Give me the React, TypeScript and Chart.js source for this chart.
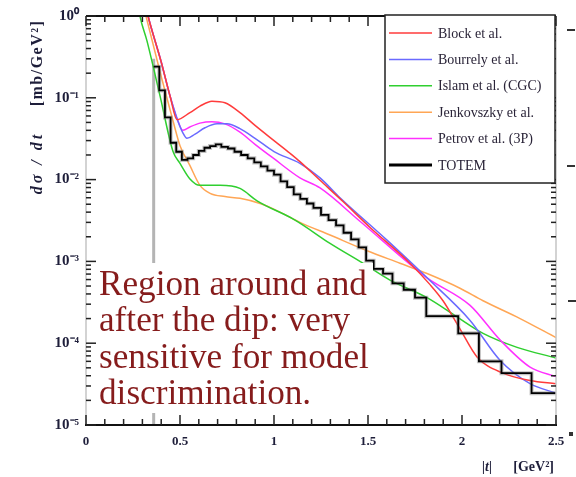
import React, { useEffect, useRef } from 'react';
import { Chart, registerables } from 'chart.js';

Chart.register(...registerables);

// ---- data (|t| in GeV^2, dσ/dt in mb/GeV^2) ----
const blockT = [0.27, 0.33, 0.399, 0.447, 0.484, 0.553, 0.606, 0.67, 0.739, 0.819, 0.899, 1.0, 1.085, 1.138, 1.245, 1.367, 1.511, 1.723, 1.83, 1.899, 1.989, 2.08, 2.218, 2.362, 2.5];
const blockV = [4, 1, 0.28, 0.105, 0.054, 0.066, 0.079, 0.091, 0.087, 0.066, 0.046, 0.03, 0.021, 0.0166, 0.0098, 0.0054, 0.0026, 0.00095, 0.00052, 0.00033, 0.00015, 0.000068, 0.000043, 0.000035, 0.000032];

const bourrelyT = [0.27, 0.33, 0.399, 0.447, 0.484, 0.516, 0.537, 0.58, 0.633, 0.697, 0.75, 0.819, 0.899, 1.0, 1.138, 1.245, 1.351, 1.601, 1.814, 2.043, 2.202, 2.362, 2.5];
const bourrelyV = [4, 1, 0.28, 0.105, 0.056, 0.037, 0.032, 0.036, 0.043, 0.048, 0.048, 0.042, 0.032, 0.022, 0.0158, 0.0105, 0.006, 0.00182, 0.00063, 0.00019, 0.000062, 0.000032, 0.0000245];

const islamT = [0.26, 0.287, 0.324, 0.394, 0.463, 0.5, 0.553, 0.606, 0.713, 0.819, 0.91, 1.112, 1.298, 1.473, 1.617, 1.814, 1.973, 2.112, 2.293, 2.5];
const islamV = [2.5, 1, 0.5, 0.105, 0.022, 0.0158, 0.0102, 0.0085, 0.0085, 0.0078, 0.0055, 0.0032, 0.00166, 0.00095, 0.00059, 0.00036, 0.00021, 0.000132, 0.000089, 0.000066];

const jenkT = [0.27, 0.319, 0.399, 0.463, 0.5, 0.553, 0.606, 0.66, 0.739, 0.819, 0.926, 1.032, 1.138, 1.298, 1.495, 1.67, 1.814, 1.989, 2.112, 2.309, 2.5];
const jenkV = [3, 1, 0.186, 0.052, 0.026, 0.0148, 0.0085, 0.0068, 0.0062, 0.0059, 0.0051, 0.004, 0.003, 0.0021, 0.00135, 0.00095, 0.00071, 0.00047, 0.00033, 0.0002, 0.000117];

const petrovT = [0.27, 0.33, 0.399, 0.447, 0.484, 0.516, 0.553, 0.606, 0.67, 0.739, 0.819, 0.899, 1.0, 1.138, 1.245, 1.457, 1.814, 2.043, 2.202, 2.362, 2.5];
const petrovV = [4, 1, 0.28, 0.105, 0.056, 0.04, 0.044, 0.049, 0.051, 0.048, 0.038, 0.027, 0.018, 0.0105, 0.0079, 0.0031, 0.00063, 0.00029, 0.00011, 0.000051, 0.000039];

// TOTEM histogram: bin lower edges; value i holds from totemT[i] to totemT[i+1]
const totemT = [0.36, 0.39, 0.42, 0.45, 0.48, 0.51, 0.54, 0.57, 0.6, 0.63, 0.66, 0.69, 0.72, 0.755, 0.79, 0.825, 0.86, 0.895, 0.93, 0.965, 1.0, 1.035, 1.07, 1.105, 1.14, 1.175, 1.21, 1.25, 1.29, 1.33, 1.37, 1.41, 1.45, 1.49, 1.53, 1.58, 1.63, 1.69, 1.75, 1.81, 1.98, 2.09, 2.21, 2.37, 2.5];
const totemV = [0.24, 0.123, 0.0575, 0.0282, 0.0219, 0.0174, 0.0182, 0.02, 0.0224, 0.0245, 0.0257, 0.0269, 0.0251, 0.024, 0.0219, 0.02, 0.0182, 0.0162, 0.0145, 0.0129, 0.0115, 0.0095, 0.0081, 0.0066, 0.0058, 0.0051, 0.0045, 0.0037, 0.0032, 0.00275, 0.00224, 0.00186, 0.00148, 0.00102, 0.00081, 0.00071, 0.00054, 0.00045, 0.00036, 0.000214, 0.000132, 0.00006, 0.000043, 0.0000245, 0.0000245];

const dipLineT = [0.36, 0.36];
const dipLineV = [0.3, 0.00001];

const xTickLabels = ['0', '0.5', '1', '1.5', '2', '2.5'];
const yTickLabels: Record<string, string> = { '-5': '10⁻⁵', '-4': '10⁻⁴', '-3': '10⁻³', '-2': '10⁻²', '-1': '10⁻¹', '0': '10⁰' };
const legendLabels = ['Block et al.', 'Bourrely et al.', 'Islam et al. (CGC)', 'Jenkovszky et al.', 'Petrov et al. (3P)', 'TOTEM'];
const legendColors = ['#ff3b3b', '#6a6aff', '#2fcf2f', '#ffa655', '#ff30ff', '#000000'];
const noteLines = ['Region around and', 'after the dip: very', 'sensitive for model', 'discrimination.'];
const yTitleUnits = '[mb/GeV²]';
const yTitleVar = 'dσ / dt';
const xTitleVar = '|t|';
const xTitleUnits = '[GeV²]';

const pts = (t: number[], v: number[]) => t.map((x, i) => ({ x, y: v[i] }));

const overlay = {
  id: 'overlay',
  afterDatasetsDraw(chart: any) {
    const { ctx, chartArea } = chart;
    const { left, right, top, bottom } = chartArea;
    const xs = chart.scales.x;
    const ys = chart.scales.y;
    ctx.save();

    // note box
    ctx.fillStyle = '#ffffff';
    ctx.fillRect(95, 263, 278, 150);
    const fam = '"Liberation Serif", serif';
    ctx.font = `100px ${fam}`;
    const w = ctx.measureText(noteLines[0]).width;
    const size = (100 * 268) / w;
    ctx.font = `${size}px ${fam}`;
    ctx.fillStyle = '#861c1c';
    ctx.textBaseline = 'alphabetic';
    ctx.textAlign = 'left';
    noteLines.forEach((l, i) => ctx.fillText(l, 99, 295 + i * 36.3));

    // frame
    const line = (x1: number, y1: number, x2: number, y2: number) => {
      ctx.beginPath();
      ctx.moveTo(x1, y1);
      ctx.lineTo(x2, y2);
      ctx.stroke();
    };
    ctx.strokeStyle = '#c4c4c4';
    ctx.lineWidth = 1.5;
    line(left, top, left, bottom);
    line(right, top, right, bottom);
    ctx.strokeStyle = '#111';
    ctx.lineWidth = 2;
    line(left, top, right, top);
    line(left - 1, bottom, right + 1, bottom);

    ctx.lineWidth = 1.5;
    ctx.strokeStyle = '#222';
    for (let k = 0; k <= 25; k++) {
      const v = k / 10;
      const px = xs.getPixelForValue(v);
      const len = k % 5 === 0 ? 10 : 6;
      line(px, bottom, px, bottom - len);
      line(px, top, px, top + len);
    }
    for (let d = -5; d <= 0; d++) {
      for (let m = 1; m <= 9; m++) {
        if (d === 0 && m > 1) break;
        const py = ys.getPixelForValue(m * Math.pow(10, d));
        const len = m === 1 ? 10 : 5;
        line(left, py, left + len, py);
        line(right, py, right - len, py);
      }
    }

    // stray marks from neighbouring panel
    ctx.lineWidth = 2;
    ctx.strokeStyle = '#333';
    line(567, 30, 575, 30);
    line(567, 166, 575, 166);
    line(568, 301, 576, 301);
    ctx.fillStyle = '#333';
    ctx.fillRect(569, 432, 4, 4);

    // legend
    const lx = 385, ly = 15, lw = 170, lh = 168;
    ctx.fillStyle = '#fff';
    ctx.fillRect(lx, ly, lw, lh);
    ctx.strokeStyle = '#222';
    ctx.lineWidth = 1.5;
    ctx.strokeRect(lx, ly, lw, lh);
    ctx.font = `14px ${fam}`;
    ctx.textBaseline = 'middle';
    legendLabels.forEach((lab, i) => {
      const yy = 33 + i * 26.4;
      ctx.strokeStyle = legendColors[i];
      ctx.lineWidth = i === 5 ? 3 : 1.5;
      line(389, yy, 432, yy);
      ctx.fillStyle = '#2a2438';
      ctx.fillText(lab, 438, yy + 1);
    });

    // axis titles
    ctx.fillStyle = '#1e1e3a';
    ctx.textAlign = 'center';
    ctx.textBaseline = 'middle';
    ctx.save();
    ctx.translate(38, 0);
    ctx.rotate(-Math.PI / 2);
    (ctx as any).letterSpacing = '1.5px';
    ctx.font = `bold 16px ${fam}`;
    ctx.fillText(yTitleUnits, -63, 0);
    (ctx as any).letterSpacing = '3px';
    ctx.font = `italic bold 16px ${fam}`;
    ctx.fillText(yTitleVar, -163, 0);
    ctx.restore();
    ctx.font = `italic bold 14px ${fam}`;
    ctx.textAlign = 'center';
    ctx.fillText(xTitleVar, 487, 467);
    ctx.font = `bold 14px ${fam}`;
    ctx.textAlign = 'right';
    ctx.fillText(xTitleUnits, 554, 467);

    ctx.restore();
  },
};

export default function App() {
  const ref = useRef<HTMLCanvasElement>(null);
  useEffect(() => {
    if (!ref.current) return;
    const common = { pointRadius: 0, borderWidth: 1.5, fill: false, cubicInterpolationMode: 'monotone' as const };
    const chart = new Chart(ref.current, {
      type: 'line',
      data: {
        datasets: [
          { label: legendLabels[5], data: pts(totemT, totemV), borderColor: '#000', borderWidth: 1.8, pointRadius: 0, stepped: 'before', order: 0 } as any,
          { label: 'halo', data: pts(totemT, totemV), borderColor: 'rgba(120,120,120,0.45)', borderWidth: 4, pointRadius: 0, stepped: 'before', order: 1 } as any,
          { label: legendLabels[0], data: pts(blockT, blockV), borderColor: legendColors[0], ...common, order: 2 },
          { label: legendLabels[1], data: pts(bourrelyT, bourrelyV), borderColor: legendColors[1], ...common, order: 3 },
          { label: legendLabels[4], data: pts(petrovT, petrovV), borderColor: legendColors[4], ...common, order: 4 },
          { label: legendLabels[2], data: pts(islamT, islamV), borderColor: legendColors[2], ...common, order: 5 },
          { label: legendLabels[3], data: pts(jenkT, jenkV), borderColor: legendColors[3], ...common, order: 6 },
          { label: 'dip', data: pts(dipLineT, dipLineV), borderColor: '#b4b4b4', borderWidth: 3, pointRadius: 0, order: 7 },
        ],
      },
      options: {
        responsive: false,
        animation: false,
        layout: { padding: { left: 0, top: 15, right: 20, bottom: 0 } },
        plugins: { legend: { display: false }, tooltip: { enabled: false } },
        scales: {
          x: {
            type: 'linear',
            min: 0,
            max: 2.5,
            grid: { display: false, drawTicks: false },
            border: { display: false },
            ticks: {
              stepSize: 0.5,
              padding: 9,
              color: '#1e1e3a',
              font: { family: '"Liberation Serif", serif', size: 13, weight: 'bold' },
              callback: (_v: any, i: number) => xTickLabels[i] ?? '',
            },
            afterFit: (s: any) => { s.height = 52; },
          },
          y: {
            type: 'logarithmic',
            min: 0.00001,
            max: 1,
            grid: { display: false, drawTicks: false },
            border: { display: false },
            ticks: {
              autoSkip: false,
              padding: 7,
              color: '#1e1e3a',
              font: { family: '"Liberation Serif", serif', size: 15, weight: 'bold' },
              callback: (v: any) => {
                const e = Math.log10(Number(v));
                const r = Math.round(e);
                return Math.abs(e - r) < 1e-6 ? yTickLabels[String(r)] ?? '' : '';
              },
            },
            afterFit: (s: any) => { s.width = 86; },
          },
        },
      },
      plugins: [overlay],
    });
    return () => chart.destroy();
  }, []);
  return (
    <div style={{ position: 'fixed', left: 0, top: 0, width: 576, height: 477, background: '#fff' }}>
      <canvas ref={ref} width={576} height={477} style={{ display: 'block' }} />
    </div>
  );
}
